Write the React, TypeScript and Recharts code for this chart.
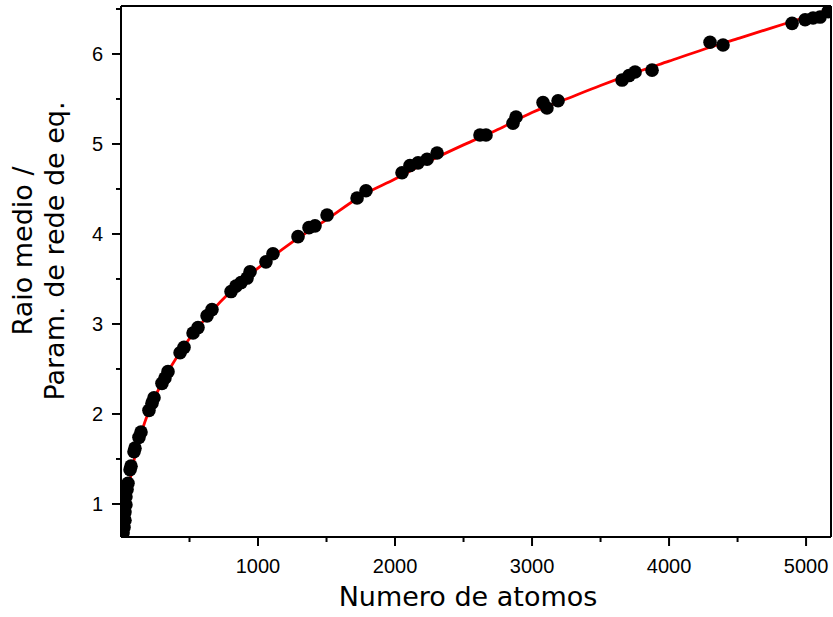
import React from "react";
import {
  ComposedChart,
  Scatter,
  Line,
  XAxis,
  YAxis,
  ReferenceLine,
} from "recharts";

// simulated points: number of atoms vs mean radius / lattice param
const atomN = [
  15, 22, 29, 29, 36, 36, 44, 51, 66, 73, 95, 102, 131, 146, 204, 226, 241,
  299, 321, 343, 431, 460, 526, 562, 628, 664, 803, 839, 876, 920, 942, 1058,
  1109, 1292, 1372, 1416, 1504, 1723, 1788, 2051, 2109, 2168, 2234, 2307,
  2620, 2664, 2861, 2883, 3080, 3109, 3190, 3657, 3708, 3752, 3876, 4299,
  4394, 4898, 4993, 5051, 5102, 5161,
];
const raio = [
  0.68, 0.74, 0.82, 0.91, 0.99, 1.08, 1.16, 1.23, 1.38, 1.42, 1.58, 1.62,
  1.74, 1.8, 2.04, 2.12, 2.18, 2.34, 2.4, 2.47, 2.68, 2.74, 2.9, 2.96, 3.09,
  3.16, 3.36, 3.42, 3.46, 3.51, 3.58, 3.69, 3.78, 3.97, 4.07, 4.09, 4.21, 4.4,
  4.48, 4.68, 4.76, 4.79, 4.83, 4.9, 5.1, 5.1, 5.23, 5.3, 5.46, 5.4, 5.48,
  5.71, 5.76, 5.8, 5.82, 6.13, 6.1, 6.34, 6.38, 6.4, 6.41, 6.47,
];

// fitted curve
const fitN = [
  8, 30, 60, 100, 150, 200, 300, 450, 650, 800, 1000, 1250, 1500, 1750, 2000,
  2250, 2500, 2750, 3000, 3250, 3500, 3750, 4000, 4250, 4500, 4750, 5000,
  5180,
];
const fitRaio = [
  0.64, 0.95, 1.22, 1.52, 1.8, 2.02, 2.35, 2.73, 3.12, 3.36, 3.62, 3.91, 4.16,
  4.42, 4.61, 4.81, 4.99, 5.16, 5.35, 5.5, 5.65, 5.79, 5.92, 6.05, 6.17, 6.29,
  6.41, 6.5,
];

const xTicks = [500, 1000, 1500, 2000, 2500, 3000, 3500, 4000, 4500, 5000];
const yTicks = [1, 1.5, 2, 2.5, 3, 3.5, 4, 4.5, 5, 5.5, 6, 6.5];

const X_MAX = 5182;
const Y_MIN = 0.633;
const Y_MAX = 6.533;

const points = atomN.map((n, i) => ({ n, y: raio[i] }));
const fit = fitN.map((n, i) => ({ n, y: fitRaio[i] }));

const tickFont = "'Liberation Sans', Arial, sans-serif";
const titleFont = "'DejaVu Sans', Verdana, sans-serif";

function XTick(props: any) {
  const { x, y, payload } = props;
  const major = payload.value % 1000 === 0;
  return (
    <g>
      <line x1={x} y1={y} x2={x} y2={y + (major ? 9 : 5)} stroke="#000" strokeWidth={2} />
      {major && (
        <text x={x} y={y + 36} textAnchor="middle" fontFamily={tickFont} fontSize={20} fill="#000">
          {payload.value}
        </text>
      )}
    </g>
  );
}

function YTick(props: any) {
  const { x, y, payload } = props;
  const major = Number.isInteger(payload.value);
  return (
    <g>
      <line x1={x} y1={y} x2={x - (major ? 9 : 5)} y2={y} stroke="#000" strokeWidth={2} />
      {major && (
        <text x={x - 18} y={y + 7.5} textAnchor="end" fontFamily={tickFont} fontSize={20} fill="#000">
          {payload.value}
        </text>
      )}
    </g>
  );
}

function YTitle() {
  return (
    <g fontFamily={titleFont} fontSize={27} fill="#000" textAnchor="middle">
      <text x={32} y={251} transform="rotate(-90, 32, 251)">
        Raio medio /
      </text>
      <text x={64} y={251} transform="rotate(-90, 64, 251)">
        Param. de rede de eq.
      </text>
    </g>
  );
}

function XTitle() {
  return (
    <text x={468} y={606} textAnchor="middle" fontFamily={titleFont} fontSize={27} fill="#000">
      Numero de atomos
    </text>
  );
}

export default function App() {
  return (
    <div style={{ position: "absolute", left: 0, top: 0, width: 833, height: 617, background: "#fff" }}>
      <ComposedChart width={833} height={617} margin={{ top: 6, right: 2, bottom: 0, left: 0 }}>
        <XAxis
          type="number"
          dataKey="n"
          domain={[0, X_MAX]}
          ticks={xTicks}
          allowDataOverflow
          height={80}
          tickSize={0}
          tickMargin={0}
          tickLine={false}
          tick={<XTick />}
          axisLine={{ stroke: "#000", strokeWidth: 2 }}
          label={<XTitle />}
        />
        <YAxis
          type="number"
          dataKey="y"
          domain={[Y_MIN, Y_MAX]}
          ticks={yTicks}
          allowDataOverflow
          width={121}
          tickSize={0}
          tickMargin={0}
          tickLine={false}
          tick={<YTick />}
          axisLine={{ stroke: "#000", strokeWidth: 2 }}
          label={<YTitle />}
        />
        <ReferenceLine y={Y_MAX} stroke="#000" strokeWidth={2} />
        <ReferenceLine x={X_MAX} stroke="#000" strokeWidth={2} />
        <Scatter
          data={points}
          dataKey="y"
          fill="#000"
          shape={(p: any) => <circle cx={p.cx} cy={p.cy} r={6.8} fill="#000" />}
          isAnimationActive={false}
        />
        <Line
          data={fit}
          dataKey="y"
          type="monotone"
          stroke="#ff0000"
          strokeWidth={2.8}
          dot={false}
          activeDot={false}
          isAnimationActive={false}
        />
      </ComposedChart>
    </div>
  );
}
